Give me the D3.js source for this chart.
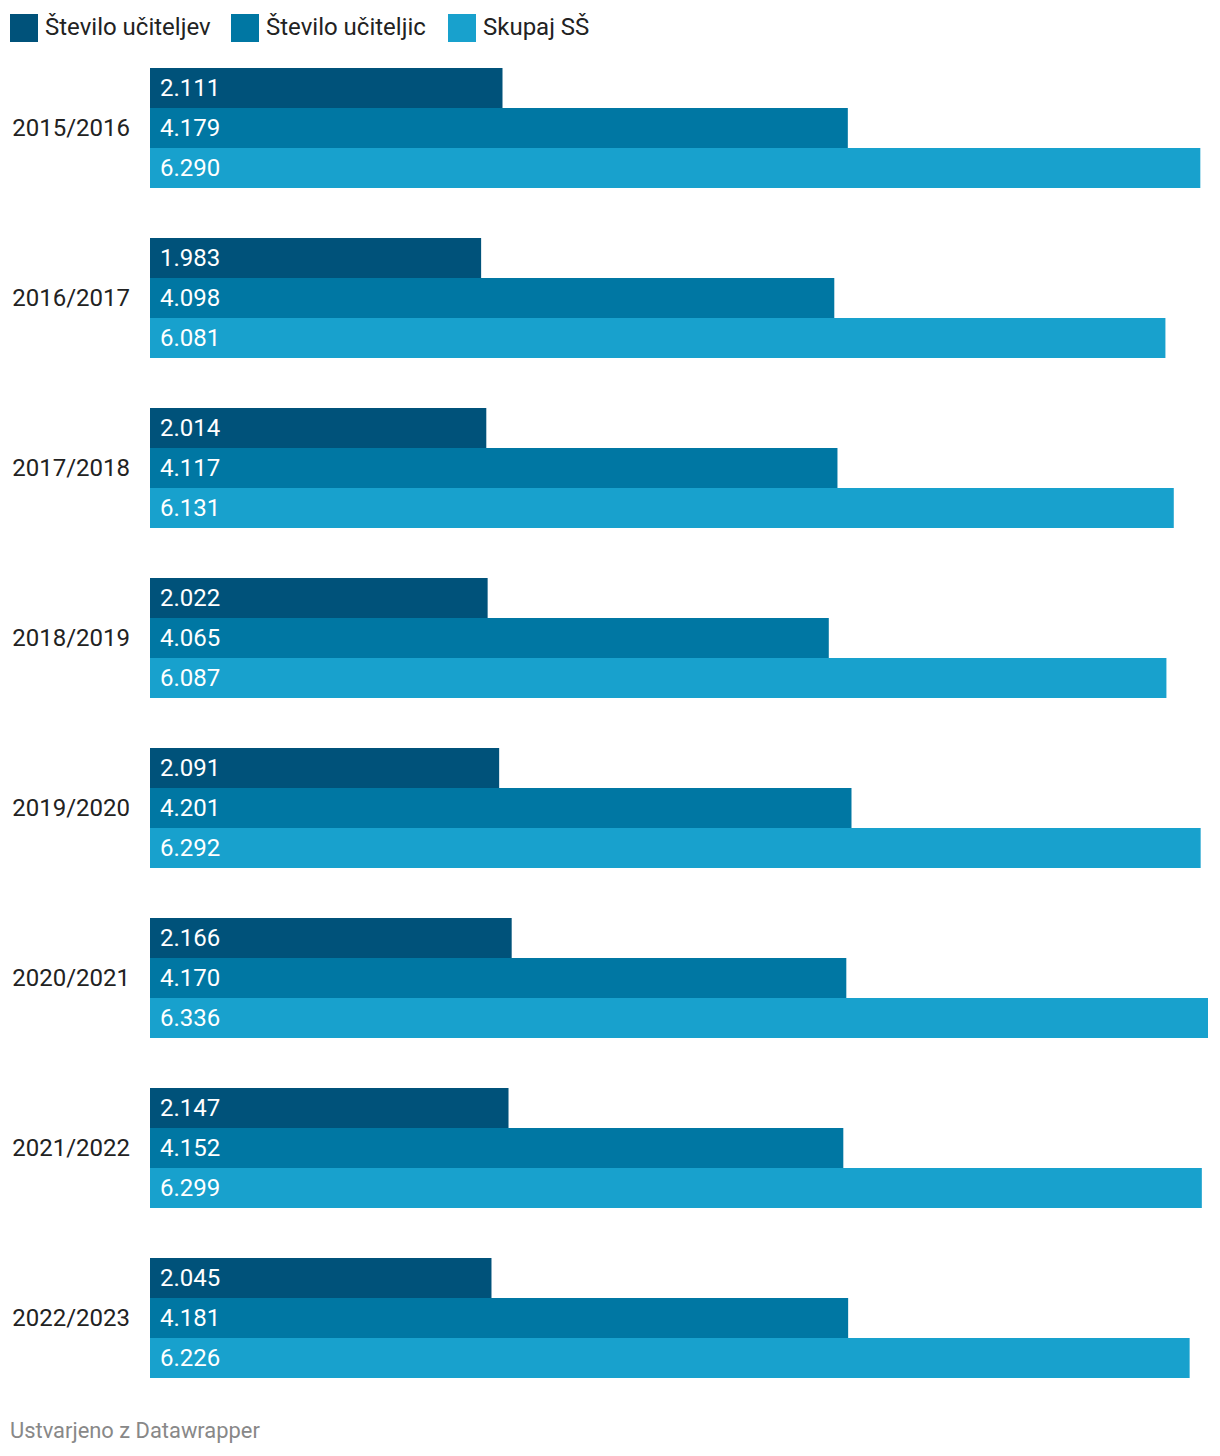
<!DOCTYPE html>
<html><head><meta charset="utf-8">
<script src="https://cdn.jsdelivr.net/npm/d3@7"></script>
<style>body{margin:0;background:#fff;font-family:Roboto,sans-serif}</style>
</head><body><svg id="c" width="1220" height="1456"></svg>
<script>
const categories = ["2015/2016","2016/2017","2017/2018","2018/2019","2019/2020","2020/2021","2021/2022","2022/2023"];
const seriesNames = ["Število učiteljev","Število učiteljic","Skupaj SŠ"];
const ucitelji = [2111,1983,2014,2022,2091,2166,2147,2045];
const uciteljice = [4179,4098,4117,4065,4201,4170,4152,4181];
const skupaj = [6290,6081,6131,6087,6292,6336,6299,6226];
const colors = ["#00527a","#0077a3","#18a1cd"];
const series = [ucitelji, uciteljice, skupaj];

const svg = d3.select("#c");
const fmt = v => d3.format(",")(v).replace(/,/g,".");

// legend
const legX = [10, 231, 448];
const leg = svg.append("g");
seriesNames.forEach((n,i)=>{
  leg.append("rect").attr("x",legX[i]).attr("y",14).attr("width",28).attr("height",28).attr("fill",colors[i]);
  leg.append("text").attr("x",legX[i]+35).attr("y",34.5).attr("font-size",24).attr("fill","#222").text(n);
});

const x = d3.scaleLinear().domain([0,6336]).range([150,1208]);
const y0 = d3.scaleBand().domain(categories).range([68,1378]).paddingInner(50/170).paddingOuter(0);
const y1 = d3.scaleBand().domain(d3.range(3)).range([0,y0.bandwidth()]);

const g = svg.append("g");
categories.forEach((c,ci)=>{
  const gg = g.append("g").attr("transform",`translate(0,${y0(c)})`);
  gg.append("text").attr("x",130).attr("y",y0.bandwidth()/2+7.8).attr("text-anchor","end").attr("font-size",24).attr("fill","#222").text(c);
  series.forEach((s,si)=>{
    gg.append("rect").attr("x",x(0)).attr("y",y1(si)).attr("width",x(s[ci])-x(0)).attr("height",y1.bandwidth()).attr("fill",colors[si]);
    gg.append("text").attr("x",x(0)+10).attr("y",y1(si)+y1.bandwidth()/2+7.8).attr("font-size",24).attr("fill","#fff").text(fmt(s[ci]));
  });
});

svg.append("text").attr("x",10).attr("y",1438).attr("font-size",21.9).attr("fill","#888").text("Ustvarjeno z Datawrapper");
</script></body></html>
